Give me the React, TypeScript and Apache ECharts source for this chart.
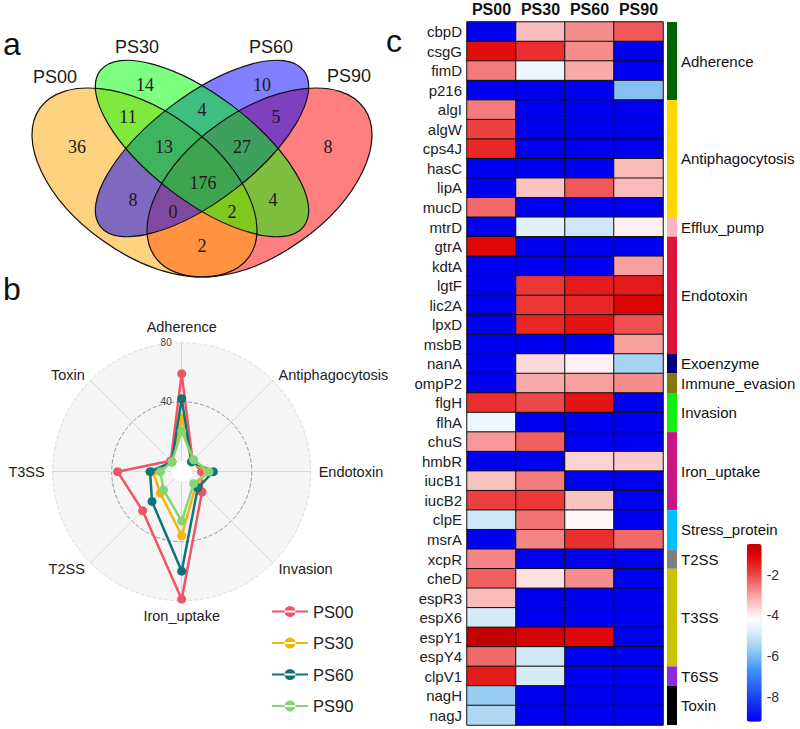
import { useEffect, useRef } from 'react';
import * as echarts from 'echarts';

// ---------------- panel a : Venn ----------------
const vennSets = ['PS00', 'PS30', 'PS60', 'PS90'];
const vennRegionNames = [
  'PS00', 'PS30', 'PS60', 'PS90',
  'PS00&PS30', 'PS30&PS60', 'PS60&PS90', 'PS00&PS60', 'PS30&PS90', 'PS00&PS90',
  'PS00&PS30&PS60', 'PS30&PS60&PS90', 'PS00&PS60&PS90', 'PS00&PS30&PS90',
  'PS00&PS30&PS60&PS90',
];
const vennRegionCounts = [36, 14, 10, 8, 11, 4, 5, 8, 4, 2, 13, 27, 0, 2, 176];

// layout of panel a (positions only)
const vennRegionPos: Record<string, [number, number]> = {
  'PS00': [77, 147], 'PS30': [145, 85], 'PS60': [262, 85], 'PS90': [328, 147],
  'PS00&PS30': [128, 117], 'PS30&PS60': [202, 110], 'PS60&PS90': [276, 117],
  'PS00&PS60': [133, 200], 'PS30&PS90': [273, 200], 'PS00&PS90': [202, 246],
  'PS00&PS30&PS60': [164, 147], 'PS30&PS60&PS90': [242, 147],
  'PS00&PS60&PS90': [173, 212], 'PS00&PS30&PS90': [232, 212],
  'PS00&PS30&PS60&PS90': [203, 183],
};
const vennSetLabelPos: Record<string, [number, number]> = {
  PS00: [55, 77], PS30: [137, 47], PS60: [271, 47], PS90: [349, 76],
};
// drawn in this order (fills are translucent)
const vennEllipses = [
  { set: 'PS90', cx: 259.5, cy: 182.5, rx: 128.3, ry: 71.6, angle: 35.4, fill: 'rgba(255,0,0,0.5)' },
  { set: 'PS00', cx: 144.5, cy: 182.5, rx: 128.3, ry: 71.6, angle: -35.4, fill: 'rgba(255,165,0,0.5)' },
  { set: 'PS60', cx: 202, cy: 148.5, rx: 128.2, ry: 52.4, angle: 37.4, fill: 'rgba(0,0,255,0.5)' },
  { set: 'PS30', cx: 202, cy: 148.5, rx: 128.2, ry: 52.4, angle: -37.4, fill: 'rgba(0,255,0,0.5)' },
];

// ---------------- panel b : radar ----------------
const samples = ['PS00', 'PS30', 'PS60', 'PS90'];
const sampleColors = ['#EE5566', '#F2B50A', '#0F7478', '#84D674'];
const radarCategories = ['Adherence', 'Antiphagocytosis', 'Endotoxin', 'Invasion', 'Iron_uptake', 'T2SS', 'T3SS', 'Toxin'];
const radarPS00 = [59, 3, 6, 12, 79, 30, 36, 3];
const radarPS30 = [29, 2, 10, 6, 36, 13, 12, 2];
const radarPS60 = [42, 2, 14, 8, 60, 21, 14, 2];
const radarPS90 = [20, 4, 11, 4, 26, 10, 7, 2];
const radarMax = 80;
// clockwise display order starting at the top
const radarDisplayOrder = [0, 7, 6, 5, 4, 3, 2, 1];

// ---------------- panel c : heatmap ----------------
const genes = [
  'cbpD', 'csgG', 'fimD', 'p216', 'algI', 'algW', 'cps4J', 'hasC', 'lipA', 'mucD', 'mtrD',
  'gtrA', 'kdtA', 'lgtF', 'lic2A', 'lpxD', 'msbB', 'nanA', 'ompP2', 'flgH', 'flhA',
  'chuS', 'hmbR', 'iucB1', 'iucB2', 'clpE', 'msrA', 'xcpR', 'cheD', 'espR3', 'espX6',
  'espY1', 'espY4', 'clpV1', 'nagH', 'nagJ',
];
const geneGroups = [
  'Adherence', 'Adherence', 'Adherence', 'Adherence',
  'Antiphagocytosis', 'Antiphagocytosis', 'Antiphagocytosis', 'Antiphagocytosis', 'Antiphagocytosis', 'Antiphagocytosis',
  'Efflux_pump',
  'Endotoxin', 'Endotoxin', 'Endotoxin', 'Endotoxin', 'Endotoxin', 'Endotoxin',
  'Exoenzyme', 'Immune_evasion', 'Invasion', 'Invasion',
  'Iron_uptake', 'Iron_uptake', 'Iron_uptake', 'Iron_uptake',
  'Stress_protein', 'Stress_protein', 'T2SS',
  'T3SS', 'T3SS', 'T3SS', 'T3SS', 'T3SS', 'T6SS', 'Toxin', 'Toxin',
];
const groupNames = [
  'Adherence', 'Antiphagocytosis', 'Efflux_pump', 'Endotoxin', 'Exoenzyme', 'Immune_evasion',
  'Invasion', 'Iron_uptake', 'Stress_protein', 'T2SS', 'T3SS', 'T6SS', 'Toxin',
];
const groupColors = [
  '#006400', '#FFD700', '#FFB6C1', '#DC143C', '#00007F', '#877A0C',
  '#12EE12', '#C71585', '#00BFFF', '#808080', '#CCC300', '#8A2BE2', '#000000',
];
const heatPS00 = [-9.2, -1.2, -2.6, -9.2, -2.6, -1.9, -1.6, -9.2, -9.2, -2.4, -9.2, -1.1, -9.2, -9.2, -9.2, -9.2, -9.2, -9.2, -9.2, -1.7, -4.5, -2.9, -9.2, -3.4, -1.9, -5.0, -9.2, -2.7, -2.3, -3.3, -4.9, -0.6, -2.4, -1.4, -5.7, -5.4];
const heatPS30 = [-3.3, -1.7, -4.5, -9.2, -9.2, -9.2, -9.2, -9.2, -3.4, -9.2, -4.7, -9.2, -9.2, -1.8, -1.8, -1.6, -9.2, -3.7, -3.1, -2.0, -9.2, -2.3, -9.2, -2.6, -1.8, -2.5, -2.7, -9.2, -3.8, -9.2, -9.2, -0.9, -5.0, -4.9, -9.2, -9.2];
const heatPS60 = [-2.8, -2.8, -3.1, -9.2, -9.2, -9.2, -9.2, -9.2, -2.2, -9.2, -5.0, -9.2, -9.2, -1.4, -1.6, -1.3, -9.2, -4.0, -3.0, -1.3, -9.2, -9.2, -3.6, -9.2, -3.4, -4.1, -1.7, -9.2, -2.8, -9.2, -9.2, -1.1, -9.2, -9.2, -9.2, -9.2];
const heatPS90 = [-2.2, -9.2, -9.2, -5.9, -9.2, -9.2, -9.2, -3.3, -3.3, -9.2, -4.0, -9.2, -3.0, -1.4, -1.0, -2.1, -3.0, -5.5, -2.8, -9.2, -9.2, -9.2, -3.5, -9.2, -9.2, -9.2, -2.4, -9.2, -9.2, -9.2, -9.2, -9.2, -9.2, -9.2, -9.2, -9.2];
const colorbarTicks = [-8, -6, -4, -2];
const heatMin = -9.2;
const heatMax = -0.5;
const heatMid = -4.2;

// ---------------- colour scale (style) ----------------
type Stop = [number, number[]];
const redStops: Stop[] = [
  [0, [255, 255, 255]], [0.25, [250, 185, 185]], [0.5, [242, 100, 100]],
  [0.7, [232, 40, 40]], [0.85, [222, 5, 5]], [1, [190, 0, 0]],
];
const blueStops: Stop[] = [
  [0, [255, 255, 255]], [0.15, [210, 232, 246]], [0.3, [150, 205, 240]],
  [0.5, [60, 145, 250]], [0.75, [30, 70, 235]], [1, [0, 0, 240]],
];
function lerpStops(stops: Stop[], t: number): string {
  const tt = Math.max(0, Math.min(1, t));
  for (let i = 1; i < stops.length; i++) {
    if (tt <= stops[i][0]) {
      const [t0, c0] = stops[i - 1];
      const [t1, c1] = stops[i];
      const f = (tt - t0) / (t1 - t0);
      const c = c0.map((v, k) => Math.round(v + (c1[k] - v) * f));
      return `rgb(${c[0]},${c[1]},${c[2]})`;
    }
  }
  const c = stops[stops.length - 1][1];
  return `rgb(${c[0]},${c[1]},${c[2]})`;
}
function heatColor(v: number): string {
  return v >= heatMid
    ? lerpStops(redStops, (v - heatMid) / (heatMax - heatMid))
    : lerpStops(blueStops, (heatMid - v) / (heatMid - heatMin));
}
const N_COLORS = 88;
const heatColors = Array.from({ length: N_COLORS }, (_, i) =>
  heatColor(heatMin + (i * (heatMax - heatMin)) / (N_COLORS - 1)));

const SANS = '"Liberation Sans", Arial, sans-serif';
const SERIF = '"Liberation Serif", "Times New Roman", serif';

function buildOption(): any {
  const graphic: any[] = [];
  // Venn fills
  vennEllipses.forEach((e) => {
    graphic.push({
      type: 'ellipse', x: e.cx, y: e.cy, rotation: (e.angle * Math.PI) / 180,
      shape: { cx: 0, cy: 0, rx: e.rx, ry: e.ry },
      style: { fill: e.fill, stroke: 'none' }, silent: true,
    });
  });
  // Venn outlines
  vennEllipses.forEach((e) => {
    graphic.push({
      type: 'ellipse', x: e.cx, y: e.cy, rotation: (e.angle * Math.PI) / 180,
      shape: { cx: 0, cy: 0, rx: e.rx, ry: e.ry },
      style: { fill: 'none', stroke: '#111', lineWidth: 1.2 }, silent: true,
    });
  });
  vennRegionNames.forEach((name, i) => {
    const p = vennRegionPos[name];
    graphic.push({
      type: 'text', x: p[0], y: p[1], silent: true,
      style: {
        text: String(vennRegionCounts[i]), fontSize: 18, fontFamily: SERIF, fill: '#1a1a1a',
        align: 'center', verticalAlign: 'middle',
      },
    });
  });
  vennSets.forEach((s) => {
    const p = vennSetLabelPos[s];
    graphic.push({
      type: 'text', x: p[0], y: p[1], silent: true,
      style: { text: s, fontSize: 18, fontFamily: SANS, fill: '#1a1a1a', align: 'center', verticalAlign: 'middle' },
    });
  });
  // panel letters
  [['a', 3, 44], ['b', 3, 289], ['c', 386, 41]].forEach(([t, x, y]) => {
    graphic.push({
      type: 'text', x, y, silent: true,
      style: { text: t, fontSize: 32, fontFamily: SANS, fill: '#111', align: 'left', verticalAlign: 'middle' },
    });
  });

  const indicator = radarDisplayOrder.map((ci, k) => {
    const ind: any = { name: radarCategories[ci], min: 0, max: radarMax };
    if (k === 0) {
      ind.axisLabel = {
        show: true, fontSize: 10, color: '#444', margin: 10, fontFamily: SANS,
        formatter: (v: number) => (v === 0 ? '' : String(v)),
      };
    }
    return ind;
  });

  const radarSeriesValues = [radarPS00, radarPS30, radarPS60, radarPS90];
  const radarSeries = radarSeriesValues.map((vals, i) => ({
    type: 'radar', name: samples[i], z: 3 + i,
    symbol: 'circle', symbolSize: 9,
    lineStyle: { width: 2.5, color: sampleColors[i] },
    itemStyle: { color: sampleColors[i] },
    emphasis: { disabled: true },
    data: [{ name: samples[i], value: radarDisplayOrder.map((k) => vals[k]) }],
  }));

  const heatCols = [heatPS00, heatPS30, heatPS60, heatPS90];
  const heatData: number[][] = [];
  heatCols.forEach((col, x) => col.forEach((v, y) => heatData.push([x, y, v])));

  const groupSeries = groupNames.map((g, i) => ({
    type: 'bar', name: g, xAxisIndex: 1, yAxisIndex: 1, stack: 'groups',
    barWidth: '100%', silent: true,
    itemStyle: { color: groupColors[i] },
    label: {
      show: true, position: 'right', distance: 4, formatter: '{a}',
      fontSize: 15, fontFamily: SANS, color: '#111',
    },
    data: [geneGroups.filter((x) => x === g).length],
  }));

  return {
    animation: false,
    backgroundColor: '#ffffff',
    graphic,
    radar: {
      center: [181.7, 471.7],
      radius: [11, 129],
      startAngle: 90,
      shape: 'circle',
      splitNumber: 2,
      nameGap: 8,
      indicator,
      axisName: { color: '#222', fontSize: 14.5, fontFamily: SANS },
      axisLine: { lineStyle: { color: '#d8d8d8', width: 1 } },
      axisTick: { show: false },
      axisLabel: { show: false },
      splitLine: { lineStyle: { color: ['#e6e6e6', '#7c9fa0', '#dcdcdc'], type: 'dashed', width: 1 } },
      splitArea: { areaStyle: { color: ['#f5f5f5'] } },
    },
    legend: {
      orient: 'vertical', left: 272, top: 603, padding: 0,
      data: samples,
      itemWidth: 36, itemHeight: 12, itemGap: 14.5,
      icon: 'path://M0,5H36V7H0Z M12.5,6A5.5,5.5 0 1,0 23.5,6A5.5,5.5 0 1,0 12.5,6Z',
      selectedMode: false,
      textStyle: { fontSize: 16.5, color: '#222', fontFamily: SANS, lineHeight: 17 },
    },
    grid: [
      { left: 467, top: 22, width: 196, height: 703 },
      { left: 667, top: 22, width: 10, height: 703 },
      { left: 746.7, top: 544, width: 15, height: 177.7 },
    ],
    xAxis: [
      {
        type: 'category', gridIndex: 0, data: samples, position: 'top',
        axisLine: { show: false }, axisTick: { show: false }, splitLine: { show: false },
        axisLabel: { interval: 0, fontSize: 16, fontWeight: 'bold', color: '#111', margin: 5, fontFamily: SANS },
      },
      { type: 'category', gridIndex: 1, data: ['group'], show: false },
      { type: 'category', gridIndex: 2, data: [''], show: false },
    ],
    yAxis: [
      {
        type: 'category', gridIndex: 0, data: genes, inverse: true,
        axisLine: { show: false }, axisTick: { show: false }, splitLine: { show: false },
        axisLabel: { interval: 0, fontSize: 15, color: '#222', margin: 5, fontFamily: SANS },
      },
      { type: 'value', gridIndex: 1, min: 0, max: genes.length, inverse: true, show: false },
      {
        type: 'value', gridIndex: 2, min: heatMin, max: heatMax, position: 'right', splitNumber: 4,
        axisLine: { show: false }, axisTick: { show: false }, splitLine: { show: false },
        axisLabel: {
          margin: 5, fontSize: 14, color: '#333', fontFamily: SANS,
          formatter: (v: number) => (colorbarTicks.some((t) => Math.abs(t - v) < 1e-6) ? String(Math.round(v)) : ''),
        },
      },
    ],
    visualMap: {
      type: 'continuous', seriesIndex: 0, min: heatMin, max: heatMax,
      orient: 'vertical', left: 746.7, top: 544, itemWidth: 15, itemHeight: 177.7,
      padding: 0, calculable: false, hoverLink: false, show: true,
      inRange: { color: heatColors },
    },
    series: [
      {
        type: 'heatmap', xAxisIndex: 0, yAxisIndex: 0, data: heatData, silent: true,
        itemStyle: { borderColor: '#111', borderWidth: 1 },
        emphasis: { disabled: true },
      },
      ...radarSeries,
      ...groupSeries,
    ],
  };
}

export default function App() {
  const ref = useRef<HTMLDivElement>(null);
  useEffect(() => {
    if (!ref.current) return;
    const chart = echarts.init(ref.current, null, { renderer: 'svg' });
    chart.setOption(buildOption());
    return () => chart.dispose();
  }, []);
  return (
    <div
      ref={ref}
      style={{ position: 'absolute', left: 0, top: 0, width: 800, height: 729, background: '#fff' }}
    />
  );
}
